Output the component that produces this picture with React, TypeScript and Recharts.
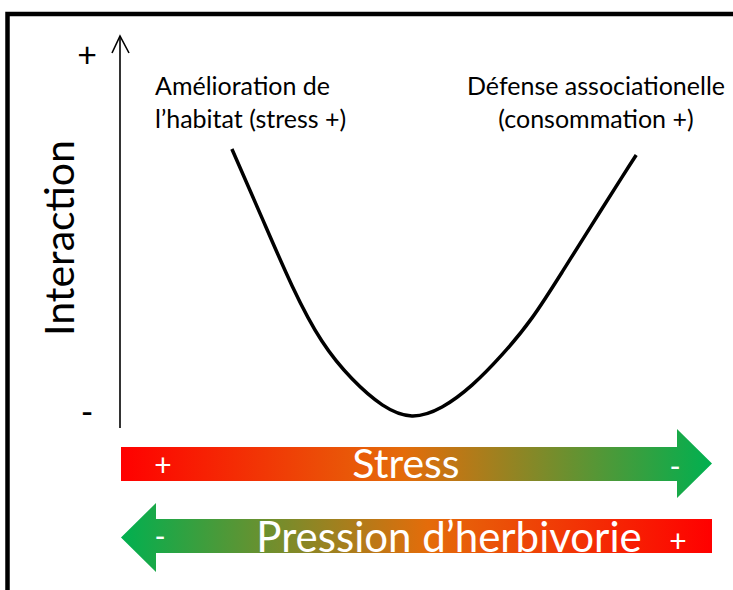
import React from "react";
import { LineChart, Line, XAxis, YAxis, Customized } from "recharts";

// Stress axis position (0 = left, 10 = right) and interaction strength
const stressLevels = [1.89, 2.4, 2.91, 3.41, 3.92, 4.43, 4.93, 5.44, 5.95, 6.45, 6.96, 7.47, 7.97, 8.48, 8.72];
const interactionValues = [7.33, 5.39, 3.48, 1.94, 0.88, 0.15, -0.16, 0.09, 0.71, 1.55, 2.59, 3.88, 5.2, 6.54, 7.16];
const yTickValues = [0, 10];
const yTickLabels = ["-", "+"];
const leftNote = ["Amélioration de", "l’habitat (stress +)"];
const rightNote = ["Défense associationelle", "(consommation +)"];
const stressLabel = "Stress";
const herbivoryLabel = "Pression d’herbivorie";

const data = stressLevels.map((x, i) => ({ x, y: interactionValues[i] }));

const W = 733;
const H = 590;
const M = { top: 36, right: 21, bottom: 162, left: 0 };
const YAXIS_W = 120;
const FONT = "Lato, 'Noto Sans', sans-serif";
const RED = "#FF0000";
const ORANGE = "#E46C0A";
const GREEN = "#00B050";

const YTick = (props: any) => {
  const { x, y, payload } = props;
  const idx = yTickValues.indexOf(payload.value);
  const label = idx >= 0 ? yTickLabels[idx] : "";
  return (
    <text x={x - 33} y={y} textAnchor="middle" dominantBaseline="central" fontFamily={FONT} fontSize={34} fill="#000">
      {label}
    </text>
  );
};

const Decor = () => {
  const left = M.left + YAXIS_W;
  const right = W - M.right;
  const top = M.top;
  // stress arrow geometry
  const sTop = 447, sBot = 481, sHeadTop = 429, sHeadBot = 498, sHeadX = 677;
  const sMid = (sHeadTop + sHeadBot) / 2;
  // herbivory arrow geometry
  const hTop = 519, hBot = 553, hHeadTop = 503, hHeadBot = 572, hHeadX = 156;
  const hMid = (hHeadTop + hHeadBot) / 2;
  return (
    <g>
      <defs>
        <linearGradient id="gStress" gradientUnits="userSpaceOnUse" x1={left} y1={0} x2={right} y2={0}>
          <stop offset="0" stopColor={RED} />
          <stop offset="0.48" stopColor={ORANGE} />
          <stop offset="1" stopColor={GREEN} />
        </linearGradient>
        <linearGradient id="gHerb" gradientUnits="userSpaceOnUse" x1={left} y1={0} x2={right} y2={0}>
          <stop offset="0" stopColor={GREEN} />
          <stop offset="0.52" stopColor={ORANGE} />
          <stop offset="1" stopColor={RED} />
        </linearGradient>
      </defs>
      {/* frame */}
      <path d={`M7.5,${H} L7.5,14 L${W},14`} fill="none" stroke="#000" strokeWidth={4.5} />
      {/* y axis arrowhead */}
      <path d={`M${left - 8},${top + 17} L${left},${top} L${left + 9},${top + 17}`} fill="none" stroke="#000" strokeWidth={1.6} />
      {/* Interaction label */}
      <text
        x={58}
        y={238}
        transform="rotate(-90 58 238)"
        textAnchor="middle"
        dominantBaseline="central"
        fontFamily={FONT}
        fontSize={41}
        fill="#000"
      >
        Interaction
      </text>
      {/* notes */}
      <text fontFamily={FONT} fontSize={25} fill="#000">
        <tspan x={155} y={95}>{leftNote[0]}</tspan>
        <tspan x={155} y={128}>{leftNote[1]}</tspan>
      </text>
      <text fontFamily={FONT} fontSize={25} fill="#000" textAnchor="middle">
        <tspan x={596} y={95}>{rightNote[0]}</tspan>
        <tspan x={596} y={128}>{rightNote[1]}</tspan>
      </text>
      {/* stress arrow */}
      <polygon
        points={`${left + 1},${sTop} ${sHeadX},${sTop} ${sHeadX},${sHeadTop} ${right},${sMid} ${sHeadX},${sHeadBot} ${sHeadX},${sBot} ${left + 1},${sBot}`}
        fill="url(#gStress)"
      />
      <text x={406} y={478} textAnchor="middle" fontFamily={FONT} fontSize={41} fill="#fff">{stressLabel}</text>
      <text x={163} y={464} textAnchor="middle" dominantBaseline="central" fontFamily={FONT} fontSize={30} fill="#fff">+</text>
      <text x={675} y={465} textAnchor="middle" dominantBaseline="central" fontFamily={FONT} fontSize={30} fill="#fff">-</text>
      {/* herbivory arrow */}
      <polygon
        points={`${left + 1},${hMid} ${hHeadX},${hHeadTop} ${hHeadX},${hTop} ${right},${hTop} ${right},${hBot} ${hHeadX},${hBot} ${hHeadX},${hHeadBot}`}
        fill="url(#gHerb)"
      />
      <text x={449} y={552} textAnchor="middle" fontFamily={FONT} fontSize={42} fill="#fff">{herbivoryLabel}</text>
      <text x={160} y={535} textAnchor="middle" dominantBaseline="central" fontFamily={FONT} fontSize={30} fill="#fff">-</text>
      <text x={678} y={540} textAnchor="middle" dominantBaseline="central" fontFamily={FONT} fontSize={30} fill="#fff">+</text>
    </g>
  );
};

export default function App() {
  return (
    <div style={{ position: "absolute", left: 0, top: 0, width: W, height: H, background: "#fff" }}>
      <LineChart width={W} height={H} data={data} margin={M}>
        <XAxis type="number" dataKey="x" domain={[0, 10]} hide />
        <YAxis
          type="number"
          domain={[-0.5, 10.5]}
          ticks={yTickValues}
          width={YAXIS_W}
          axisLine={{ stroke: "#000", strokeWidth: 1.6 }}
          tickLine={false}
          tickSize={0}
          tickMargin={0}
          tick={<YTick />}
          interval={0}
        />
        <Customized component={<Decor />} />
        <Line
          type="natural"
          dataKey="y"
          stroke="#000"
          strokeWidth={3.5}
          dot={false}
          activeDot={false}
          isAnimationActive={false}
        />
      </LineChart>
    </div>
  );
}
